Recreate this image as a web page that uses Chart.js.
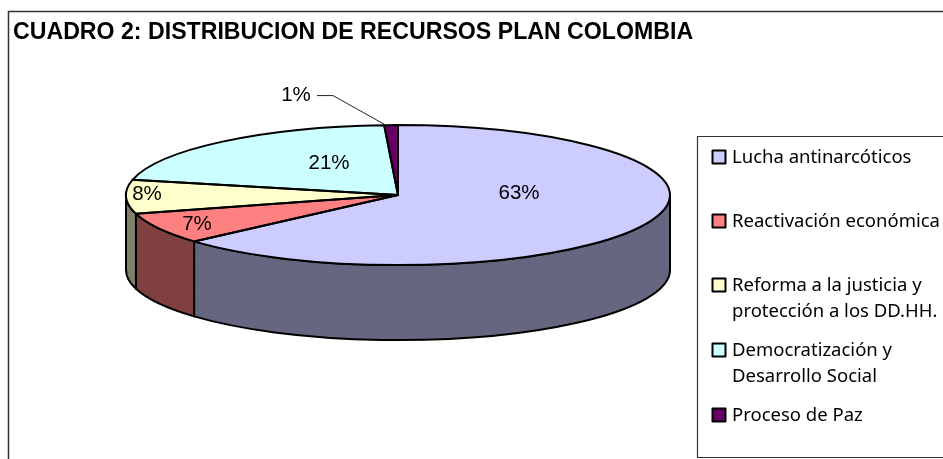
<!DOCTYPE html>
<html>
<head>
<meta charset="utf-8">
<script src="https://cdn.jsdelivr.net/npm/chart.js@4"></script>
<style>
  html, body { margin: 0; padding: 0; background: #fff; overflow: hidden; }
  #wrap { position: relative; width: 943px; height: 459px; }
</style>
</head>
<body>
<div id="wrap"><canvas id="pie"></canvas></div>
<script>
// data
var titleText = "CUADRO 2: DISTRIBUCION DE RECURSOS PLAN COLOMBIA";
var categories = ["Lucha antinarcóticos", "Reactivación económica", "Reforma a la justicia y protección a los DD.HH.", "Democratización y Desarrollo Social", "Proceso de Paz"];
var shares = [63.49, 7.2, 7.8, 20.7, 0.81];

// legend wording split in lines, same order as categories
var legendLines = [["Lucha antinarcóticos"], ["Reactivación económica"], ["Reforma a la justicia y", "protección a los DD.HH."], ["Democratización y", "Desarrollo Social"], ["Proceso de Paz"]];

var topColors = ["#CCCCFF", "#FF8080", "#FFFFCC", "#CCFFFF", "#660066"];
var sideColors = ["#666680", "#804040", "#808066", "#668080", "#330033"];

// 3d look of the pie
var radiusX = 272, radiusY = 70, depth = 75;
var edgeWidth = 2;

// percent labels, offset from pie centre
var labelOffsets = [[121, -2], [-201, 29], [-251, -1], [-69, -32], [-102, -100]];
var labelFont = '20.5px "Liberation Sans"';

// legend layout
var legendFont = '18.5px "Noto Sans"';
var legendBox = { left: 697.5, top: 136.5, bottom: 457.5, right: 960 };
var legendRows = [163, 227, 291, 356, 421];
var legendLineStep = 25.5;

function getCenter(chart) {
    var arc = chart.getDatasetMeta(0).data[0];
    return { x: arc.x, y: arc.y, r: arc.outerRadius };
}

var pie3d = {
    id: 'pie3d',
    beforeDraw: function (chart) {
        var ctx = chart.ctx;
        ctx.save();
        ctx.strokeStyle = '#333';
        ctx.lineWidth = 1.5;
        ctx.strokeRect(8.5, 11.5, 1000, 1000);
        ctx.restore();
    },
    beforeDatasetsDraw: function (chart) {
        var ctx = chart.ctx, c = getCenter(chart);
        // side wall, only the part of each slice that faces us
        ctx.save();
        ctx.lineWidth = edgeWidth;
        ctx.strokeStyle = '#000';
        ctx.lineJoin = 'round';
        chart.getDatasetMeta(0).data.forEach(function (arc, i) {
            var a = Math.max(arc.startAngle, 0), b = Math.min(arc.endAngle, Math.PI);
            if (b <= a) return;
            ctx.beginPath();
            ctx.ellipse(c.x, c.y, radiusX, radiusY, 0, a, b);
            ctx.ellipse(c.x, c.y + depth, radiusX, radiusY, 0, b, a, true);
            ctx.closePath();
            ctx.fillStyle = sideColors[i];
            ctx.fill();
            ctx.stroke();
        });
        ctx.restore();
        // squash the flat pie the library draws
        ctx.save();
        ctx.translate(c.x, c.y);
        ctx.scale(radiusX / c.r, radiusY / c.r);
        ctx.translate(-c.x, -c.y);
    },
    afterDatasetsDraw: function (chart) {
        var ctx = chart.ctx, c = getCenter(chart);
        ctx.restore();
        ctx.save();
        // slice outlines
        ctx.lineWidth = edgeWidth;
        ctx.strokeStyle = '#000';
        ctx.lineJoin = 'round';
        chart.getDatasetMeta(0).data.forEach(function (arc) {
            ctx.beginPath();
            ctx.moveTo(c.x, c.y);
            ctx.ellipse(c.x, c.y, radiusX, radiusY, 0, arc.startAngle, arc.endAngle);
            ctx.closePath();
            ctx.stroke();
        });

        // leader line of the small slice
        var last = chart.getDatasetMeta(0).data[4];
        var off = labelOffsets[4];
        ctx.lineWidth = 1;
        ctx.strokeStyle = '#222';
        ctx.beginPath();
        ctx.moveTo(c.x + off[0] + 21, c.y + off[1] + 0.5);
        ctx.lineTo(c.x + off[0] + 37, c.y + off[1] + 0.5);
        ctx.lineTo(c.x + radiusX * Math.cos(last.startAngle), c.y + radiusY * Math.sin(last.startAngle) - 1);
        ctx.stroke();

        // percent labels
        ctx.fillStyle = '#000';
        ctx.font = labelFont;
        ctx.textAlign = 'center';
        ctx.textBaseline = 'middle';
        shares.forEach(function (v, i) {
            ctx.fillText(Math.round(v) + '%', c.x + labelOffsets[i][0], c.y + labelOffsets[i][1]);
        });

        // legend
        ctx.strokeStyle = '#333';
        ctx.lineWidth = 1.2;
        ctx.strokeRect(legendBox.left, legendBox.top, legendBox.right - legendBox.left, legendBox.bottom - legendBox.top);
        ctx.font = legendFont;
        ctx.textAlign = 'left';
        ctx.textBaseline = 'alphabetic';
        legendLines.forEach(function (lines, i) {
            var y = legendRows[i];
            ctx.fillStyle = topColors[i];
            ctx.fillRect(712.5, y - 12.5, 13, 13);
            ctx.lineWidth = 2;
            ctx.strokeStyle = '#000';
            ctx.strokeRect(712.5, y - 12.5, 13, 13);
            ctx.fillStyle = '#000';
            lines.forEach(function (line, k) {
                ctx.fillText(line, 732, y + k * legendLineStep);
            });
        });
        ctx.restore();
    }
};

var myChart = new Chart(document.getElementById('pie'), {
    type: 'pie',
    data: {
        labels: categories,
        datasets: [{
            data: shares,
            backgroundColor: topColors,
            borderWidth: 0,
            clip: false
        }]
    },
    options: {
        responsive: true,
        maintainAspectRatio: false,
        animation: false,
        layout: { padding: { left: 13, right: 160, top: 19, bottom: 115.6 } },
        plugins: {
            legend: { display: false },
            tooltip: { enabled: false },
            title: {
                display: true,
                text: titleText,
                align: 'start',
                color: '#000',
                padding: 0,
                font: { family: '"Liberation Sans"', size: 23.15, weight: 'bold' }
            }
        }
    },
    plugins: [pie3d]
});
</script>
</body>
</html>
